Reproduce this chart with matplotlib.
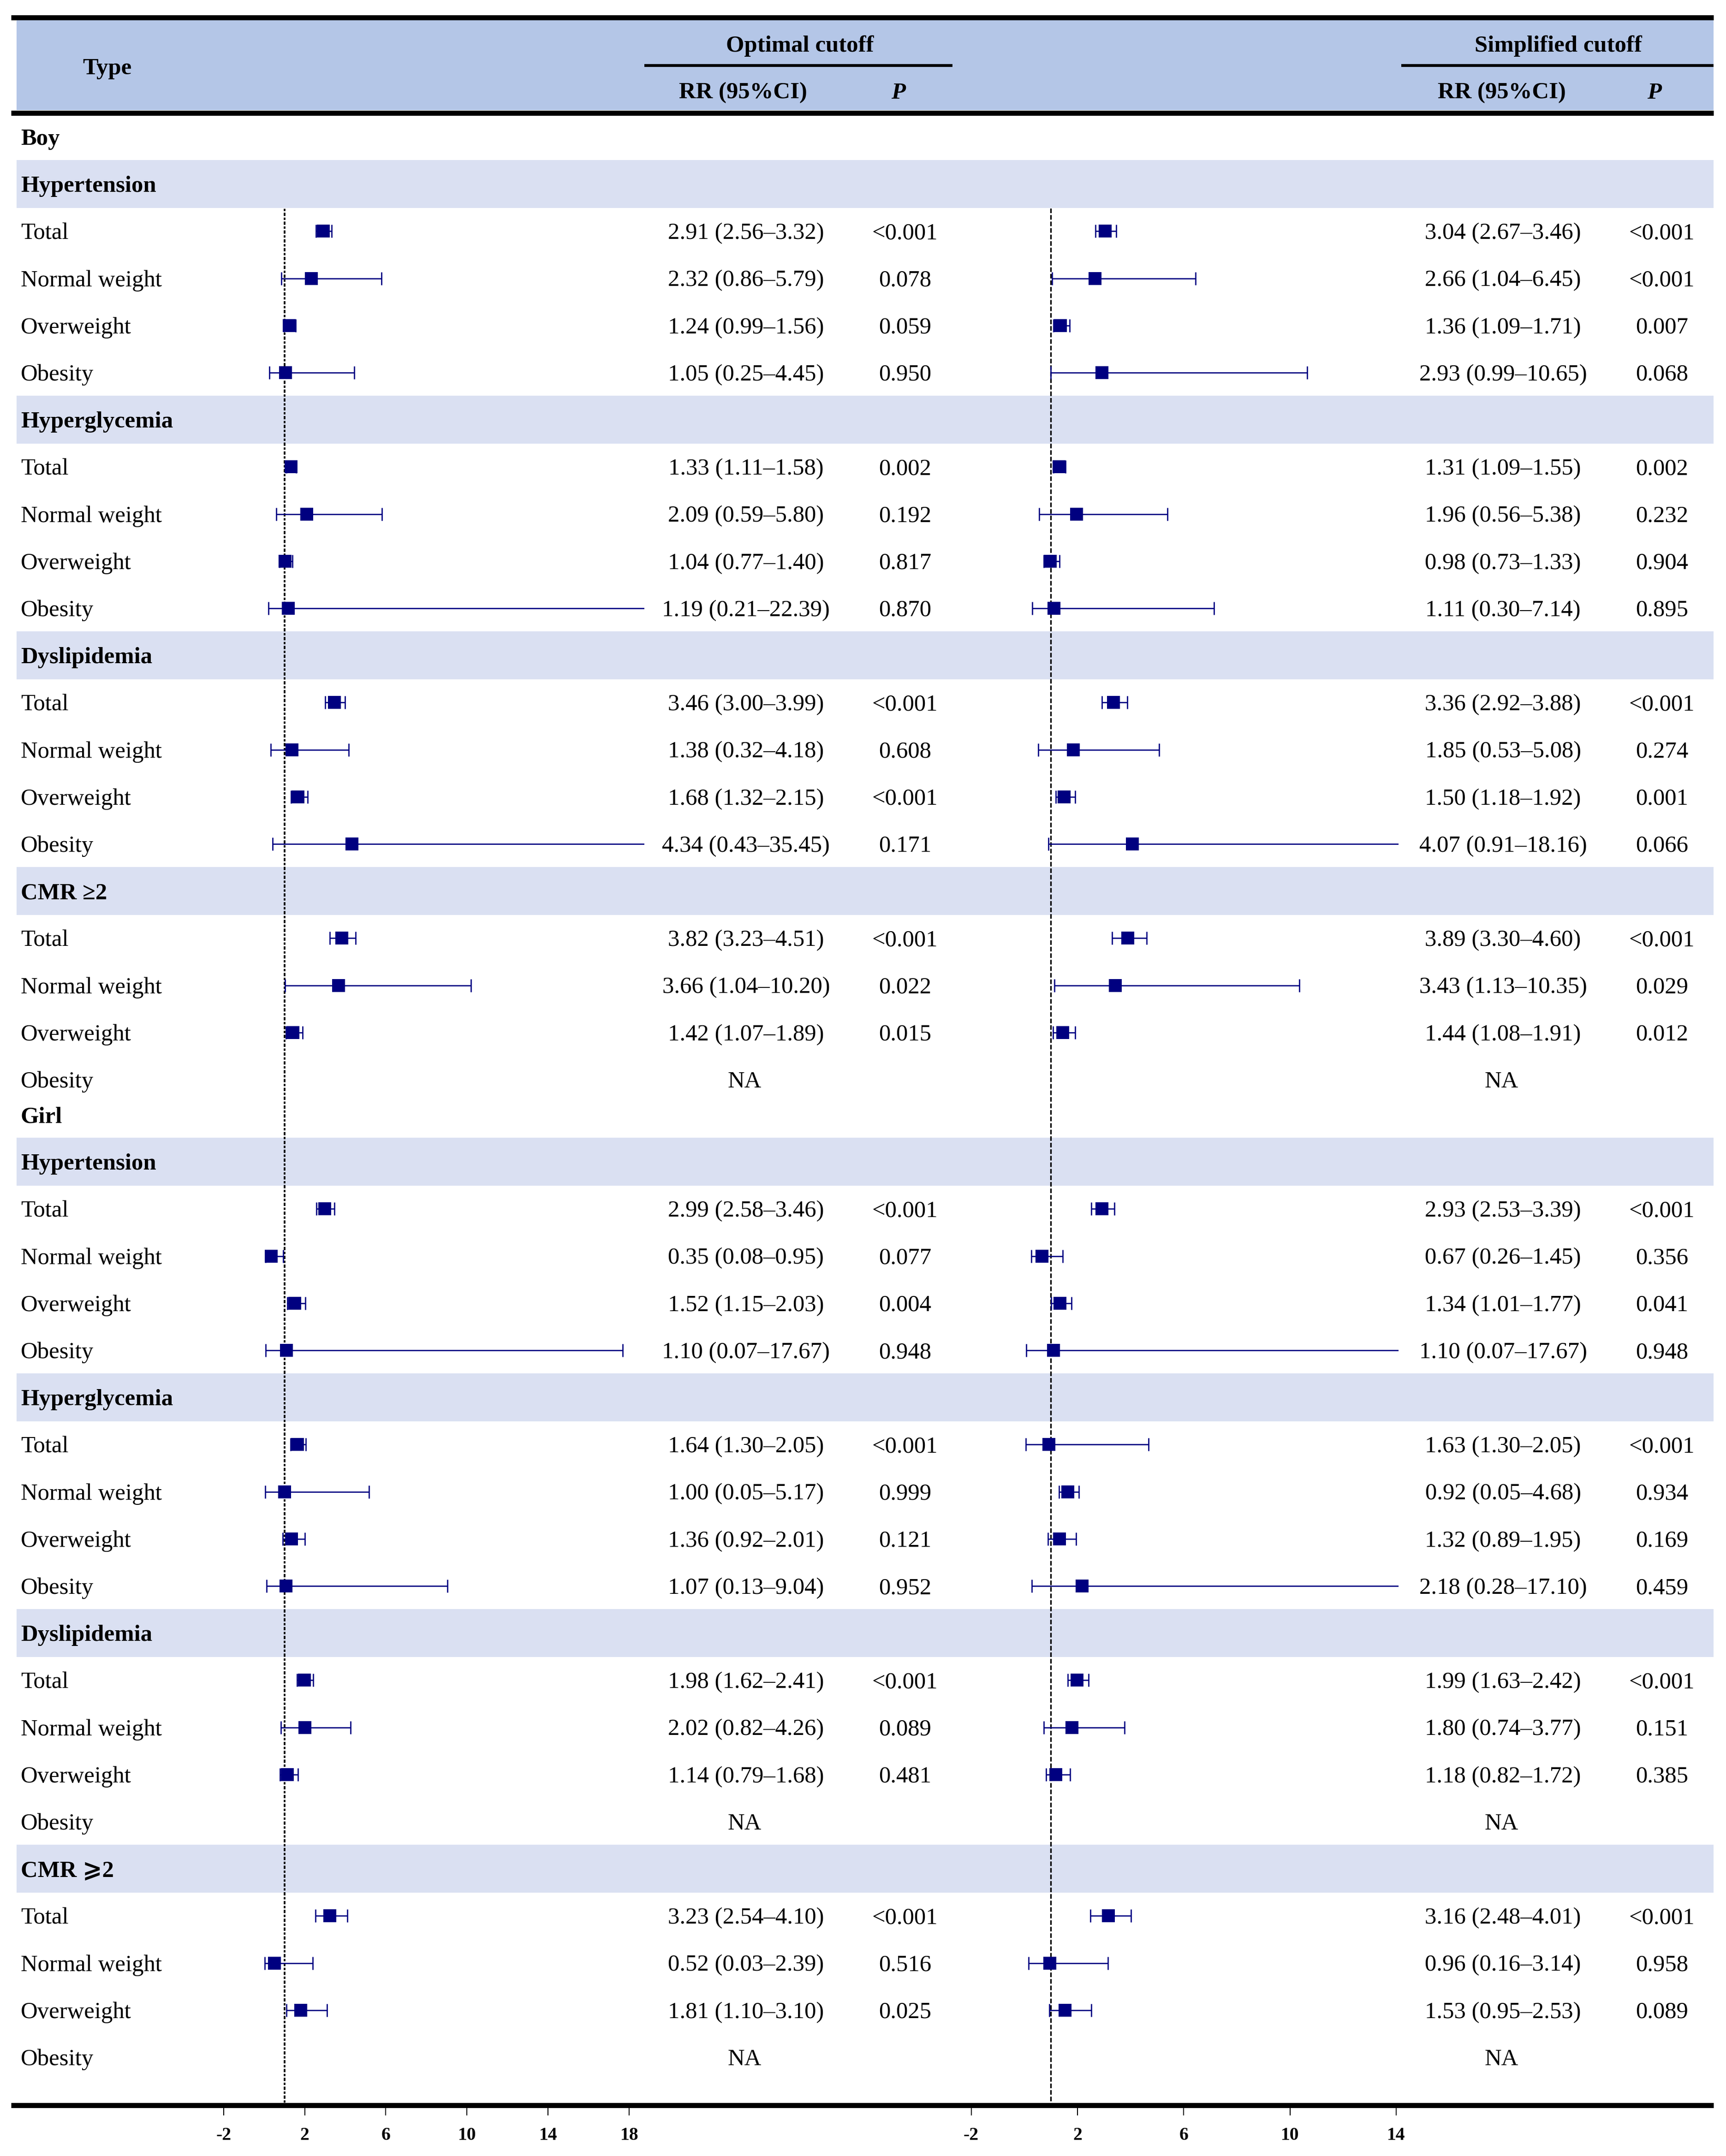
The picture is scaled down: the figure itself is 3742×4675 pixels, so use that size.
import numpy as np
import matplotlib.pyplot as plt
from matplotlib.patches import Rectangle

plt.rcParams['font.family'] = ['Liberation Serif', 'DejaVu Serif', 'DejaVu Sans']
plt.rcParams['axes.unicode_minus'] = False
plt.rcParams['lines.scale_dashes'] = False

nan = np.nan

# ---- data ----
subtypes = ["Total", "Normal weight", "Overweight", "Obesity"]
boy_groups = ["Hypertension", "Hyperglycemia", "Dyslipidemia", "CMR \u22652"]
girl_groups = ["Hypertension", "Hyperglycemia", "Dyslipidemia", "CMR \u2a7e2"]

# boy, optimal cutoff
boy_opt_rr = [2.91, 2.32, 1.24, 1.05, 1.33, 2.09, 1.04, 1.19, 3.46, 1.38, 1.68, 4.34, 3.82, 3.66, 1.42, nan]
boy_opt_lo = [2.56, 0.86, 0.99, 0.25, 1.11, 0.59, 0.77, 0.21, 3.00, 0.32, 1.32, 0.43, 3.23, 1.04, 1.07, nan]
boy_opt_hi = [3.32, 5.79, 1.56, 4.45, 1.58, 5.80, 1.40, 22.39, 3.99, 4.18, 2.15, 35.45, 4.51, 10.20, 1.89, nan]
boy_opt_p = ["<0.001", "0.078", "0.059", "0.950", "0.002", "0.192", "0.817", "0.870",
             "<0.001", "0.608", "<0.001", "0.171", "<0.001", "0.022", "0.015", ""]

# boy, simplified cutoff
boy_simp_rr = [3.04, 2.66, 1.36, 2.93, 1.31, 1.96, 0.98, 1.11, 3.36, 1.85, 1.50, 4.07, 3.89, 3.43, 1.44, nan]
boy_simp_lo = [2.67, 1.04, 1.09, 0.99, 1.09, 0.56, 0.73, 0.30, 2.92, 0.53, 1.18, 0.91, 3.30, 1.13, 1.08, nan]
boy_simp_hi = [3.46, 6.45, 1.71, 10.65, 1.55, 5.38, 1.33, 7.14, 3.88, 5.08, 1.92, 18.16, 4.60, 10.35, 1.91, nan]
boy_simp_p = ["<0.001", "<0.001", "0.007", "0.068", "0.002", "0.232", "0.904", "0.895",
              "<0.001", "0.274", "0.001", "0.066", "<0.001", "0.029", "0.012", ""]

# girl, optimal cutoff
girl_opt_rr = [2.99, 0.35, 1.52, 1.10, 1.64, 1.00, 1.36, 1.07, 1.98, 2.02, 1.14, nan, 3.23, 0.52, 1.81, nan]
girl_opt_lo = [2.58, 0.08, 1.15, 0.07, 1.30, 0.05, 0.92, 0.13, 1.62, 0.82, 0.79, nan, 2.54, 0.03, 1.10, nan]
girl_opt_hi = [3.46, 0.95, 2.03, 17.67, 2.05, 5.17, 2.01, 9.04, 2.41, 4.26, 1.68, nan, 4.10, 2.39, 3.10, nan]
girl_opt_p = ["<0.001", "0.077", "0.004", "0.948", "<0.001", "0.999", "0.121", "0.952",
              "<0.001", "0.089", "0.481", "", "<0.001", "0.516", "0.025", ""]

# girl, simplified cutoff
girl_simp_rr = [2.93, 0.67, 1.34, 1.10, 1.63, 0.92, 1.32, 2.18, 1.99, 1.80, 1.18, nan, 3.16, 0.96, 1.53, nan]
girl_simp_lo = [2.53, 0.26, 1.01, 0.07, 1.30, 0.05, 0.89, 0.28, 1.63, 0.74, 0.82, nan, 2.48, 0.16, 0.95, nan]
girl_simp_hi = [3.39, 1.45, 1.77, 17.67, 2.05, 4.68, 1.95, 17.10, 2.42, 3.77, 1.72, nan, 4.01, 3.14, 2.53, nan]
girl_simp_p = ["<0.001", "0.356", "0.041", "0.948", "<0.001", "0.934", "0.169", "0.459",
               "<0.001", "0.151", "0.385", "", "<0.001", "0.958", "0.089", ""]
# in the original figure the Hyperglycemia Total / Normal weight marks are drawn swapped
girl_simp_drawn = [0, 1, 2, 3, 5, 4, 6, 7, 8, 9, 10, 11, 12, 13, 14, 15]

left_ticks = [-2, 2, 6, 10, 14, 18]
right_ticks = [-2, 2, 6, 10, 14]

# ---- layout (units of the reference at 1/2.984 scale) ----
W, H = 1254.0, 1566.7
STEP = 34.25
FS = 12.2
OFF = 5.7          # baseline offset from row centre
NAVY = '#000080'
HEAD_BG = '#B4C6E7'
BAND_BG = '#DAE0F2'
X0, X1 = 8, 1245

fig = plt.figure(figsize=(3742 / 300, 4675 / 300), dpi=300)
ax = fig.add_axes([0, 0, 1, 1])
ax.set_xlim(0, W)
ax.set_ylim(H, 0)
ax.axis('off')


def txt(x, yc, s, ha='left', **kw):
    ax.text(x, yc + OFF, s, ha=ha, va='baseline', fontsize=FS, **kw)


# header
ax.add_patch(Rectangle((12, 14.4), X1 - 12, 65.8, color=HEAD_BG, lw=0))
ax.plot([X0, X1], [12.6, 12.6], color='k', lw=2.64, solid_capstyle='butt')
ax.plot([X0, X1], [82.0, 82.0], color='k', lw=2.64, solid_capstyle='butt')
ax.plot([468, 692], [47.6, 47.6], color='k', lw=1.5, solid_capstyle='butt')
ax.plot([1018, X1], [47.6, 47.6], color='k', lw=1.5, solid_capstyle='butt')
ax.plot([X0, X1], [1529.7, 1529.7], color='k', lw=2.64, solid_capstyle='butt')

txt(78, 48.3, "Type", ha='center', fontweight='bold')
txt(581, 31.7, "Optimal cutoff", ha='center', fontweight='bold')
txt(1132, 31.7, "Simplified cutoff", ha='center', fontweight='bold')
txt(540, 65.9, "RR (95%CI)", ha='center', fontweight='bold')
txt(1091, 65.9, "RR (95%CI)", ha='center', fontweight='bold')
txt(652.5, 65.9, "P", ha='center', fontweight='bold', fontstyle='italic')
txt(1202, 65.9, "P", ha='center', fontweight='bold', fontstyle='italic')

# forest axes
L_ORIG, L_SC = 162.4, 14.74
R_ORIG, R_SC = 705.6, 19.3
Y_TOP, Y_BOT = 151.0, 1531.5


def forest_axes(xa, xb, orig, sc, ticks):
    fa = fig.add_axes([xa / W, 1 - Y_BOT / H, (xb - xa) / W, (Y_BOT - Y_TOP) / H])
    fa.set_xlim(-2 + (xa - orig) / sc, -2 + (xb - orig) / sc)
    fa.set_ylim(Y_BOT, Y_TOP)
    fa.patch.set_visible(False)
    for sp in fa.spines.values():
        sp.set_visible(False)
    fa.set_yticks([])
    fa.set_xticks(ticks)
    fa.set_xticklabels([str(t) for t in ticks], fontweight='bold')
    fa.tick_params(axis='x', direction='out', length=4.1, width=0.5, pad=6, labelsize=9.5)
    return fa


axL = forest_axes(150, 468, L_ORIG, L_SC, left_ticks)
axR = forest_axes(692, 1016, R_ORIG, R_SC, right_ticks)
axL.axvline(1, color='k', lw=0.9, dashes=(1.7, 0.85, 1.2, 0.85))
axR.axvline(1, color='k', lw=0.8, dashes=(2.4, 1.0))


def draw_ci(fa, ys, rr, lo, hi):
    rr, lo, hi, ys = map(np.asarray, (rr, lo, hi, ys))
    ok = ~np.isnan(rr)
    cont = fa.errorbar(rr[ok], ys[ok], xerr=[rr[ok] - lo[ok], hi[ok] - rr[ok]], fmt='s',
                       ms=6.7, mfc=NAVY, mec=NAVY, ecolor=NAVY, elinewidth=0.65,
                       capsize=3.25, capthick=0.65)
    cont[0].set_markeredgewidth(0)


def section(base, label, groups, opt, simp, drawn):
    txt(15, base, label, fontweight='bold')
    ys = []
    for g, name in enumerate(groups):
        yb = base + STEP * (1 + 5 * g)
        ax.add_patch(Rectangle((12, yb - 17.4), X1 - 12, 34.8, color=BAND_BG, lw=0))
        txt(15, yb, name, fontweight='bold')
        for s, sub in enumerate(subtypes):
            y = yb + STEP * (1 + s)
            ys.append(y)
            i = 4 * g + s
            txt(15, y, sub)
            for (rr, lo, hi, p), xr, xp in ((opt, 542, 657.5), (simp, 1092, 1207.5)):
                if np.isnan(rr[i]):
                    txt(xr - 1, y, "NA", ha='center')
                else:
                    txt(xr, y, f"{rr[i]:.2f} ({lo[i]:.2f}\u2013{hi[i]:.2f})", ha='center')
                    txt(xp, y, p[i], ha='center')
    draw_ci(axL, ys, *opt[:3])
    srr, slo, shi = (np.asarray(a)[drawn] for a in simp[:3])
    draw_ci(axR, ys, srr, slo, shi)


section(99.5, "Boy", boy_groups,
        (boy_opt_rr, boy_opt_lo, boy_opt_hi, boy_opt_p),
        (boy_simp_rr, boy_simp_lo, boy_simp_hi, boy_simp_p), list(range(16)))
section(810.0, "Girl", girl_groups,
        (girl_opt_rr, girl_opt_lo, girl_opt_hi, girl_opt_p),
        (girl_simp_rr, girl_simp_lo, girl_simp_hi, girl_simp_p), girl_simp_drawn)

fig.savefig('out.png', dpi=300)
